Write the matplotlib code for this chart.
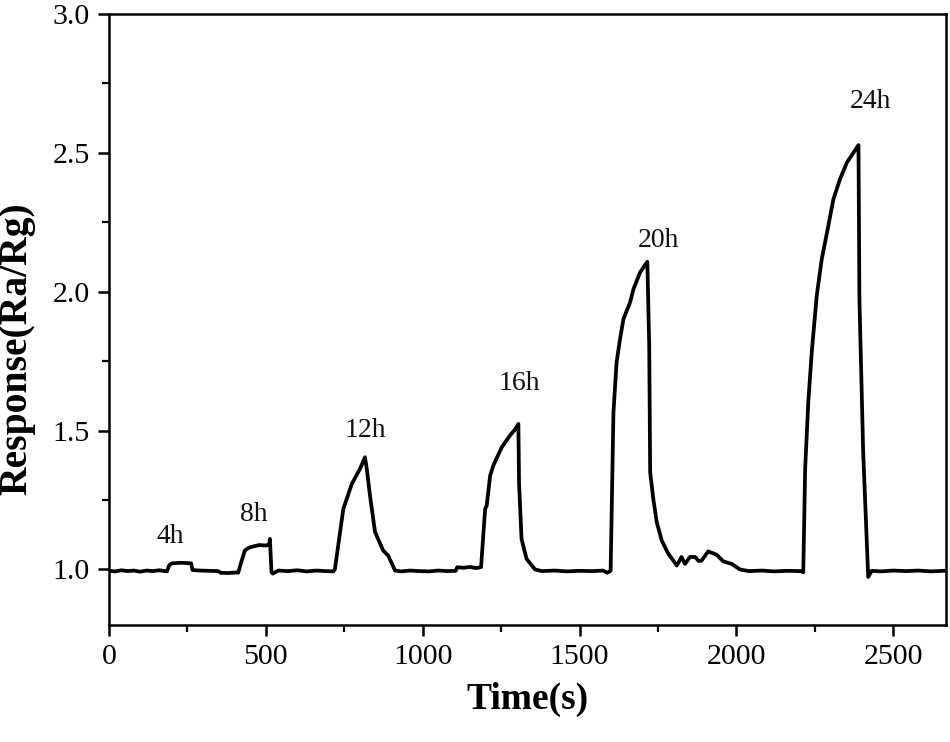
import matplotlib
matplotlib.use('Agg')
from matplotlib import pyplot as plt
from matplotlib.ticker import MultipleLocator

plt.rcParams['font.family'] = ['Liberation Serif', 'DejaVu Serif']

# response curve: time (s) and Ra/Rg
time_s = [0, 20, 40, 60, 80, 100, 120, 140, 160, 185, 192, 200, 230, 262, 266,
          290, 320, 348, 356, 380, 405, 412, 420, 433, 445, 460, 480, 500, 511,
          513, 518, 522, 540, 570, 600, 630, 660, 690, 715, 720, 747, 774, 800,
          816, 822, 832, 848, 874, 890, 912, 930, 960, 990, 1020, 1050, 1080,
          1105, 1110, 1130, 1150, 1170, 1186, 1199, 1204, 1215, 1225, 1252,
          1278, 1295, 1305, 1307, 1315, 1331, 1358, 1380, 1420, 1460, 1500,
          1540, 1575, 1588, 1599, 1608, 1618, 1629, 1640, 1661, 1672, 1693,
          1716, 1722, 1725, 1735, 1746, 1762, 1783, 1800, 1810, 1825, 1836,
          1852, 1868, 1880, 1889, 1910, 1937, 1958, 1985, 2011, 2040, 2080,
          2120, 2160, 2205, 2213, 2219, 2229, 2240, 2256, 2272, 2293, 2309,
          2330, 2352, 2373, 2389, 2392, 2404, 2420, 2431, 2460, 2500, 2540,
          2580, 2620, 2660]
response = [0.995, 0.993, 0.997, 0.994, 0.996, 0.992, 0.996, 0.994, 0.997, 0.993,
            1.015, 1.022, 1.024, 1.022, 0.998,
            0.996, 0.995, 0.994, 0.988, 0.987, 0.989, 0.988, 1.02, 1.068, 1.078,
            1.083, 1.088, 1.086, 1.09,
            1.11, 0.99, 0.985, 0.996, 0.994, 0.997, 0.993, 0.996, 0.994, 0.993,
            1.0, 1.218, 1.308, 1.362,
            1.404, 1.36, 1.266, 1.135, 1.068, 1.05, 0.996, 0.993, 0.996, 0.994,
            0.993, 0.996, 0.994,
            0.995, 1.008, 1.006, 1.009, 1.005, 1.008, 1.218, 1.23, 1.338, 1.374,
            1.44,
            1.482, 1.505, 1.524, 1.314, 1.11, 1.038, 1.0, 0.994, 0.996, 0.993,
            0.995,
            0.994, 0.996, 0.988, 0.995, 1.566, 1.746, 1.83, 1.902, 1.962, 2.01,
            2.07,
            2.108, 1.806, 1.35, 1.254, 1.17, 1.104, 1.056, 1.03, 1.014, 1.045,
            1.02,
            1.045, 1.045, 1.03, 1.032, 1.065, 1.053, 1.029, 1.02, 1.0, 0.994,
            0.996,
            0.993, 0.995, 0.994, 0.99, 1.362, 1.602, 1.782, 1.986, 2.118, 2.238,
            2.333,
            2.405, 2.465, 2.501, 2.528, 1.974, 1.422, 0.973, 0.995, 0.993, 0.996,
            0.994,
            0.996, 0.993, 0.995]

peak_labels = ['4h', '8h', '12h', '16h', '20h', '24h']
label_x = [194, 462, 816, 1307, 1750, 2426]
label_y = [1.117, 1.197, 1.499, 1.668, 2.186, 2.685]

fig = plt.figure(figsize=(9.5, 7.42), dpi=100)
ax = fig.add_axes([0.1147, 0.1577, 0.8811, 0.8234])

ax.plot(time_s, response, color='black', lw=2.7, solid_joinstyle='round')

for lab, x, y in zip(peak_labels, label_x, label_y):
    ax.text(x, y, lab, ha='center', va='center', fontsize=20, color='#111111')

ax.set_xlim(0, 2668)
ax.set_ylim(0.8, 3.0)
ax.xaxis.set_major_locator(MultipleLocator(500))
ax.xaxis.set_minor_locator(MultipleLocator(250))
ax.yaxis.set_major_locator(MultipleLocator(0.5))
ax.yaxis.set_minor_locator(MultipleLocator(0.25))
ax.set_yticks([1.0, 1.5, 2.0, 2.5, 3.0])
ax.yaxis.set_major_formatter(plt.FormatStrFormatter('%.1f'))

ax.tick_params(which='major', direction='out', length=8, width=1.8,
               labelsize=21.5, pad=6, colors='black')
ax.tick_params(which='minor', direction='out', length=5, width=1.6)
ax.tick_params(top=False, right=False, which='both')
for sp in ax.spines.values():
    sp.set_linewidth(1.8)

ax.set_xlabel('Time(s)', fontsize=27, fontweight='bold', labelpad=8)
ax.set_ylabel('Response(Ra/Rg)', fontsize=28.5, fontweight='bold')
ax.yaxis.set_label_coords(-0.088, 0.453)

plt.savefig('out.png', dpi=100)
